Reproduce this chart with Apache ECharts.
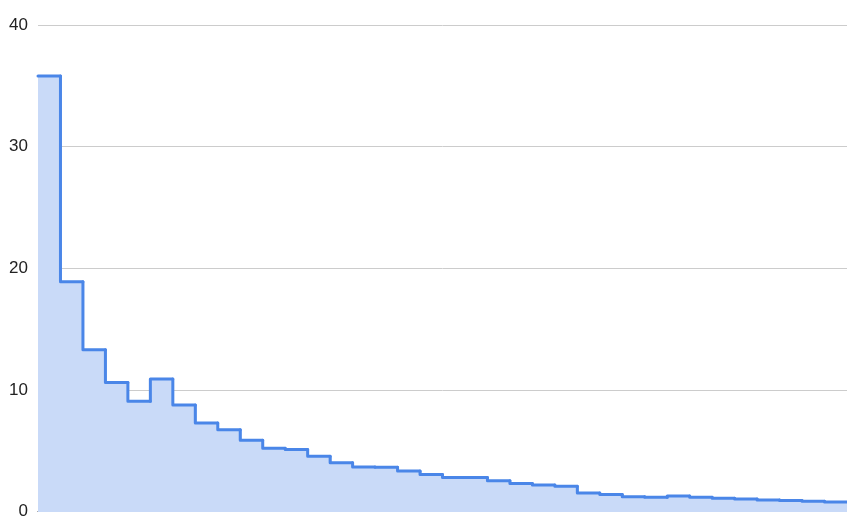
<!DOCTYPE html>
<html>
<head>
<meta charset="utf-8">
<script src="https://cdn.jsdelivr.net/npm/echarts@6/dist/echarts.min.js"></script>
<style>
html,body{margin:0;padding:0;background:#fff;}
#chart{width:847px;height:520px;}
</style>
</head>
<body>
<div id="chart"></div>
<script>
// Step values (one per category band)
const values = [35.8, 18.9, 13.3, 10.6, 9.06, 10.9, 8.76, 7.27, 6.72, 5.85, 5.2, 5.1,
  4.54, 4.0, 3.65, 3.63, 3.32, 3.05, 2.8, 2.8, 2.53, 2.31, 2.18, 2.07,
  1.52, 1.39, 1.22, 1.17, 1.28, 1.17, 1.09, 1.03, 0.95, 0.9, 0.84, 0.79];
const yTicks = [0, 10, 20, 30, 40];

const LINE = '#4a86e8';
const FILL = '#c9daf8';

// [band index, value, previous value]
const stepData = values.map((v, i) => [i, v, i > 0 ? values[i - 1] : v]);

function renderStep(params, api) {
  const i = api.value(0), v = api.value(1), prev = api.value(2);
  const p0 = api.coord([i, v]);
  const p1 = api.coord([i + 1, v]);
  const base = api.coord([i, 0]);
  const pPrev = api.coord([i, prev]);
  const left = Math.floor(p0[0]);
  const right = Math.ceil(p1[0]) + 1;
  const top = Math.round(p0[1]);
  const bottom = Math.round(base[1]);
  return {
    type: 'group',
    children: [
      {
        type: 'rect', z2: 0,
        shape: {x: left, y: top, width: right - left, height: bottom - top},
        style: {fill: FILL}
      },
      {
        type: 'polyline', z2: 10,
        shape: {points: [pPrev, p0, p1]},
        style: {stroke: LINE, lineWidth: 3, fill: null, lineJoin: 'round', lineCap: 'round'}
      }
    ]
  };
}

const chart = echarts.init(document.getElementById('chart'), null, {renderer: 'canvas'});
chart.setOption({
  animation: false,
  grid: {left: 38, right: -8, top: 25, bottom: 5, containLabel: false},
  xAxis: {
    type: 'value', min: 0, max: values.length,
    axisLine: {show: true, onZero: false, lineStyle: {color: '#333', width: 1}},
    axisTick: {show: false}, axisLabel: {show: false}, splitLine: {show: false}
  },
  yAxis: {
    type: 'value', min: yTicks[0], max: yTicks[yTicks.length - 1], interval: 10,
    axisLine: {show: false}, axisTick: {show: false},
    axisLabel: {color: '#222', fontSize: 17, fontFamily: 'Liberation Sans, Arial, sans-serif', margin: 10},
    splitLine: {lineStyle: {color: '#cccccc', width: 1}}
  },
  series: [{
    type: 'custom', data: stepData, renderItem: renderStep, clip: false,
    encode: {x: 0, y: 1}
  }]
});
</script>
</body>
</html>
